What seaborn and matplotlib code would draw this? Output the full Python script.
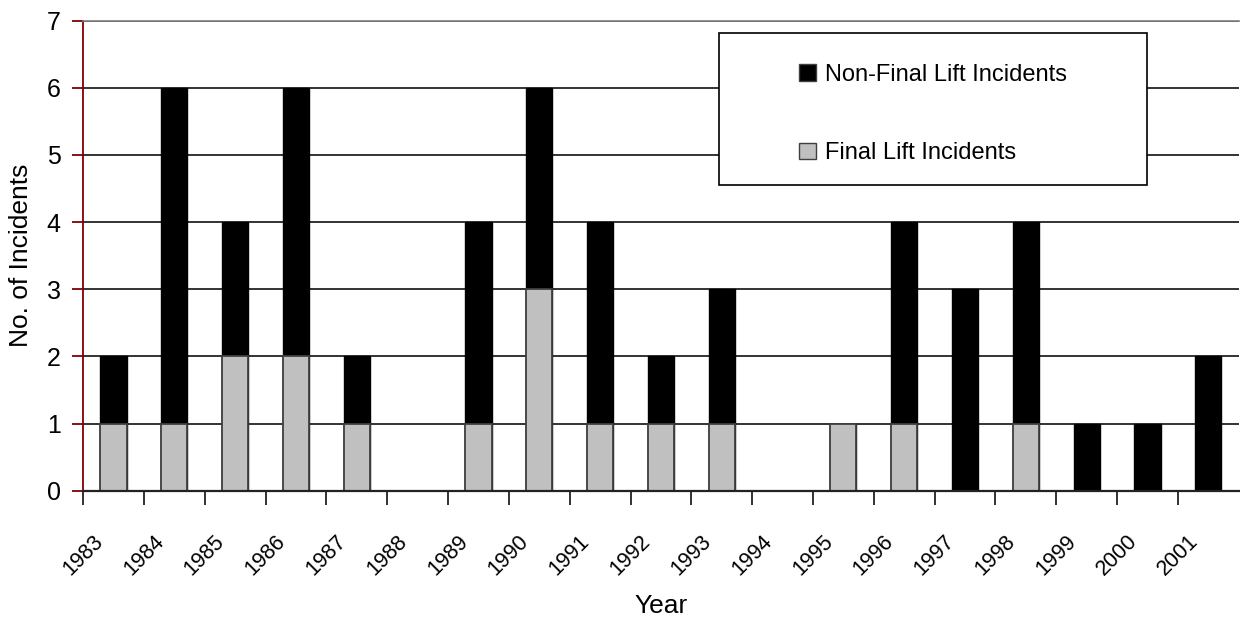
import matplotlib
matplotlib.use('Agg')
import matplotlib.pyplot as plt
import seaborn as sns
from matplotlib.patches import Patch, Rectangle

years = ['1983', '1984', '1985', '1986', '1987', '1988', '1989', '1990', '1991', '1992',
         '1993', '1994', '1995', '1996', '1997', '1998', '1999', '2000', '2001']
final_lift = [1, 1, 2, 2, 1, 0, 1, 3, 1, 1, 1, 0, 1, 1, 0, 1, 0, 0, 0]
non_final_lift = [1, 5, 2, 4, 1, 0, 3, 3, 3, 1, 2, 0, 0, 3, 3, 3, 1, 1, 2]
totals = [f + n for f, n in zip(final_lift, non_final_lift)]

sns.set_style('white')
plt.rcParams['font.family'] = ['Liberation Sans', 'DejaVu Sans']
plt.rcParams['text.color'] = 'black'
plt.rcParams['axes.labelcolor'] = 'black'
plt.rcParams['xtick.color'] = 'black'
plt.rcParams['ytick.color'] = 'black'

fig, ax = plt.subplots(figsize=(12.4, 6.18), dpi=100)
fig.subplots_adjust(left=0.067, right=0.999, bottom=0.206, top=0.9665)

ax.set_axisbelow(True)
ax.yaxis.grid(True, color='#111111', linewidth=1.2)

# stacked: total in black, final lift drawn over it in gray
sns.barplot(x=years, y=totals, color='black', edgecolor='black', linewidth=1,
            width=0.43, saturation=1, errorbar=None, ax=ax)
sns.barplot(x=years, y=final_lift, color='#c0c0c0', edgecolor='#404040', linewidth=1.3,
            width=0.43, saturation=1, errorbar=None, ax=ax)

ax.set_xlim(-0.5, len(years) - 0.5)
ax.set_ylim(0, 7)
ax.set_yticks(range(0, 8))
ax.set_xticks([i - 0.5 for i in range(len(years))])
ax.set_xticklabels(years, rotation=45, ha='center', fontsize=15.5)
ax.tick_params(axis='x', length=10, width=1.3, color='#222222', pad=19, direction='out',
               bottom=True, labelcolor='black')
ax.tick_params(axis='y', length=8, width=1.3, color='#800000', pad=8, labelsize=18,
               direction='out', left=True, labelcolor='black')

ax.spines['right'].set_visible(False)
ax.spines['top'].set_color('#808080')
ax.spines['top'].set_linewidth(1.2)
ax.spines['left'].set_color('#800000')
ax.spines['left'].set_linewidth(1.3)
ax.spines['bottom'].set_color('#222222')
ax.spines['bottom'].set_linewidth(1.6)

ax.set_xlabel('Year', fontsize=19, labelpad=10)
ax.set_ylabel('No. of Incidents', fontsize=19, labelpad=10)

# legend box
fig.patches.append(Rectangle((0.5798, 0.7006), 0.3452, 0.246, transform=fig.transFigure,
                             facecolor='white', edgecolor='black', linewidth=1.2, zorder=5))
handles = [Patch(facecolor='black', edgecolor='#404040', label='Non-Final Lift Incidents'),
           Patch(facecolor='#c0c0c0', edgecolor='#404040', label='Final Lift Incidents')]
leg = fig.legend(handles=handles, loc='center', bbox_to_anchor=(0.7524, 0.8155),
                 frameon=False, fontsize=17, handlelength=0.7, handleheight=0.7,
                 handletextpad=0.4, labelspacing=2.4, alignment='left')
leg.set_zorder(6)

plt.savefig('out.png', dpi=100)
